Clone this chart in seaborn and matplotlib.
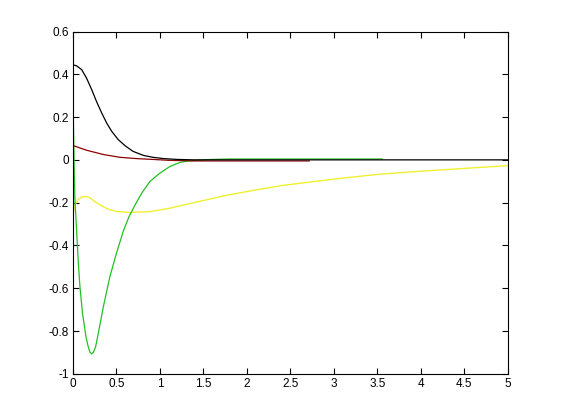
import matplotlib
matplotlib.use("Agg")
import matplotlib.pyplot as plt
import seaborn as sns

# values
black_x = [0, 0.04, 0.1, 0.157, 0.215, 0.27, 0.33, 0.387, 0.445, 0.52, 0.6, 0.69, 0.81,
           0.92, 1.04, 1.2, 1.4, 2.0, 3.0, 4.0, 5.0]
black_y = [0.444, 0.44, 0.422, 0.382, 0.329, 0.274, 0.22, 0.173, 0.134, 0.095, 0.066,
           0.04, 0.021, 0.012, 0.006, 0.002, 0.0, 0.0, 0.0, 0.0, 0.0]

red_x = [0, 0.157, 0.35, 0.54, 0.73, 0.92, 1.1, 1.4, 2.0, 2.72]
red_y = [0.067, 0.045, 0.025, 0.012, 0.006, 0.002, -0.002, -0.005, -0.005, -0.005]

green_x = [0, 0.008, 0.015, 0.023, 0.04, 0.06, 0.08, 0.11, 0.15, 0.175, 0.195, 0.215,
           0.235, 0.26, 0.29, 0.35, 0.425, 0.5, 0.578, 0.645, 0.713, 0.79, 0.885, 1.0,
           1.115, 1.23, 1.325, 1.45, 1.6, 1.8, 3.56]
green_y = [0.31, 0.12, -0.05, -0.187, -0.312, -0.467, -0.59, -0.717, -0.827, -0.872,
           -0.898, -0.907, -0.9, -0.875, -0.815, -0.686, -0.546, -0.437, -0.335, -0.265,
           -0.212, -0.156, -0.101, -0.062, -0.031, -0.012, -0.005, -0.001, 0.002, 0.004,
           0.004]

yellow_x = [0, 0.015, 0.06, 0.1, 0.15, 0.2, 0.25, 0.31, 0.4, 0.5, 0.655, 0.885, 1.115,
            1.325, 1.5, 1.75, 2.0, 2.4, 3.0, 3.5, 4.0, 4.5, 5.0]
yellow_y = [-0.27, -0.215, -0.186, -0.174, -0.171, -0.178, -0.195, -0.21, -0.23, -0.241,
            -0.246, -0.242, -0.226, -0.206, -0.19, -0.167, -0.148, -0.12, -0.09, -0.068,
            -0.053, -0.04, -0.027]

x_ticks = [0, 0.5, 1, 1.5, 2, 2.5, 3, 3.5, 4, 4.5, 5]
x_labels = ["0", "0.5", "1", "1.5", "2", "2.5", "3", "3.5", "4", "4.5", "5"]
y_ticks = [-1, -0.8, -0.6, -0.4, -0.2, 0, 0.2, 0.4, 0.6]
y_labels = ["-1", "-0.8", "-0.6", "-0.4", "-0.2", "0", "0.2", "0.4", "0.6"]

sns.set_style("white")
plt.rcParams["font.family"] = ["Liberation Sans", "DejaVu Sans"]

fig = plt.figure(figsize=(5.61, 4.2), dpi=100)
ax = fig.add_axes([0.13, 0.11, 0.775, 0.815])

sns.lineplot(x=yellow_x, y=yellow_y, color="#f0f030", lw=1.0, ax=ax, sort=False)
sns.lineplot(x=green_x, y=green_y, color="#22c022", lw=0.9, ax=ax, sort=False)
sns.lineplot(x=red_x, y=red_y, color="#8b0000", lw=0.9, ax=ax, sort=False)
sns.lineplot(x=black_x, y=black_y, color="black", lw=0.9, ax=ax, sort=False)

ax.set_xlim(0, 5)
ax.set_ylim(-1, 0.6)
ax.set_xticks(x_ticks)
ax.set_xticklabels(x_labels)
ax.set_yticks(y_ticks)
ax.set_yticklabels(y_labels)
ax.tick_params(direction="in", length=4, width=0.8, labelsize=8.5, colors="black",
               top=True, right=True, bottom=True, left=True, pad=3)
for s in ax.spines.values():
    s.set_visible(True)
    s.set_color("black")
    s.set_linewidth(0.8)

fig.savefig("out.png", dpi=100)
